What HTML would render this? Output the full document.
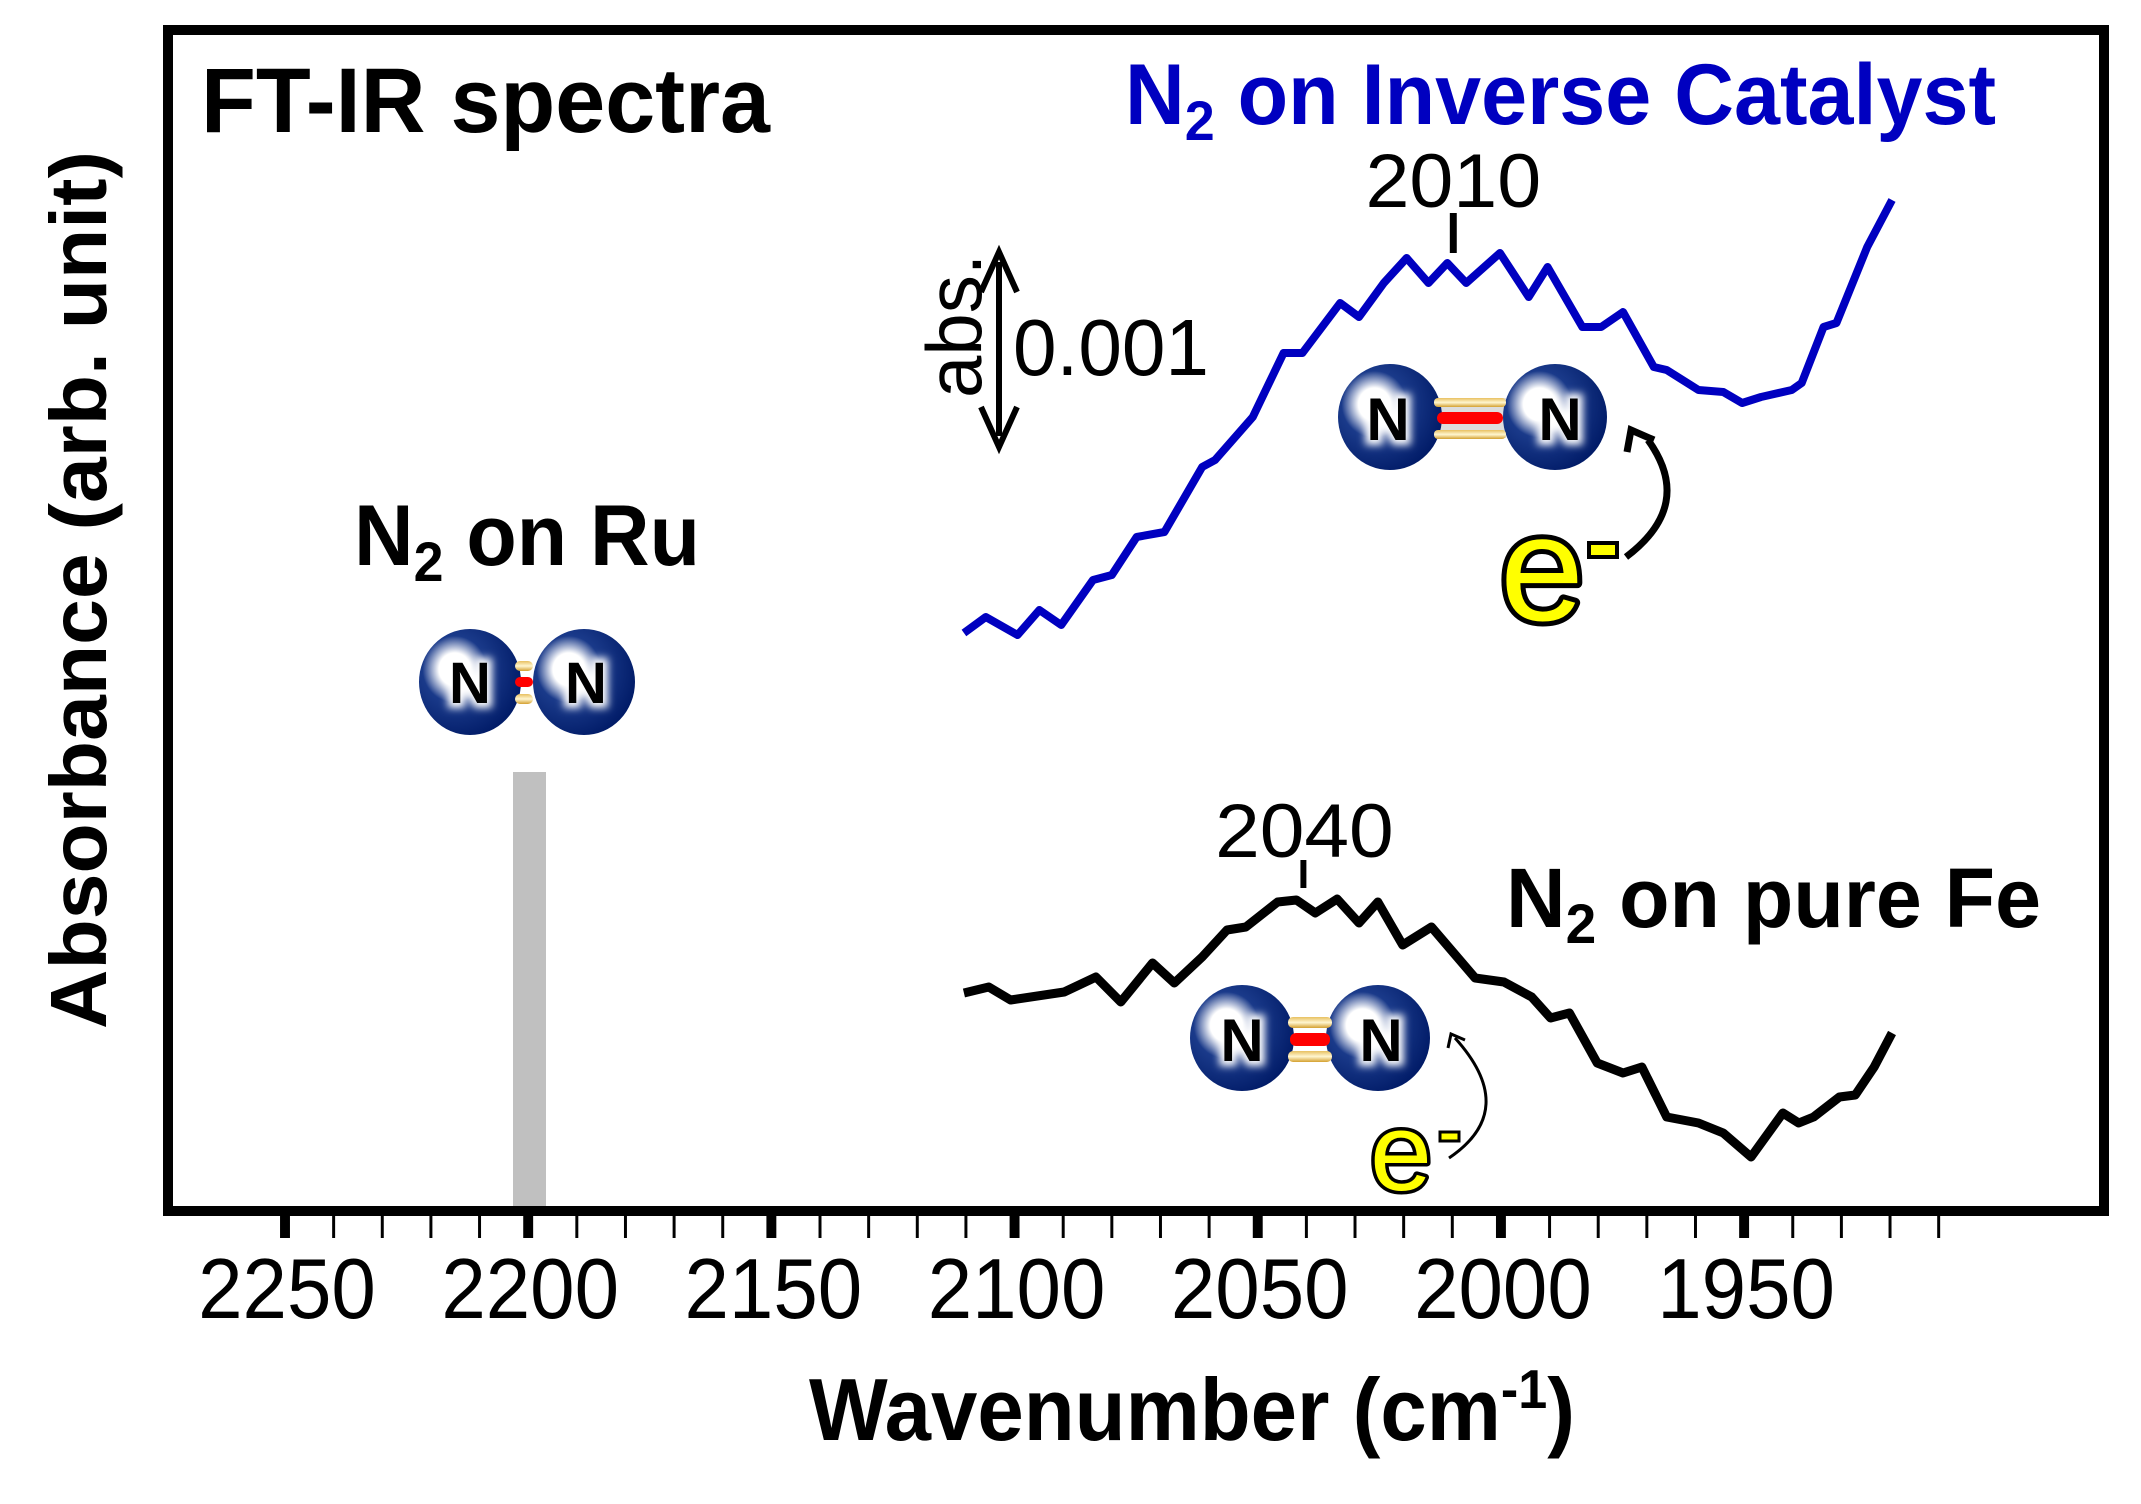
<!DOCTYPE html>
<html><head><meta charset="utf-8"><style>html,body{margin:0;padding:0;background:#fff}svg{display:block}</style></head>
<body>
<svg width="2141" height="1504" viewBox="0 0 2141 1504" xmlns="http://www.w3.org/2000/svg" font-family="Liberation Sans, Arial, sans-serif">
<defs>
<radialGradient id="ball" cx="0.35" cy="0.38" r="0.7">
<stop offset="0" stop-color="#ffffff"/>
<stop offset="0.22" stop-color="#ffffff"/>
<stop offset="0.45" stop-color="#1a3a8a"/>
<stop offset="1" stop-color="#001a66"/>
</radialGradient>
<linearGradient id="gold" x1="0" y1="0" x2="0" y2="1">
<stop offset="0" stop-color="#e8c060"/><stop offset="0.5" stop-color="#fff6d0"/><stop offset="1" stop-color="#d4a030"/>
</linearGradient>
<filter id="glow" x="-50%" y="-50%" width="200%" height="200%"><feGaussianBlur stdDeviation="4"/></filter>
</defs>

<!-- frame -->
<rect x="168" y="30" width="1936" height="1181" fill="none" stroke="#000" stroke-width="10"/>

<!-- gray bar -->
<rect x="513" y="772" width="33" height="434" fill="#c0c0c0"/>

<g transform="translate(285,0) scale(0.9926,1) translate(-285,0)">
<!-- ticks -->
<g stroke="#000">
<g stroke-width="10">
<line x1="285" y1="1211" x2="285" y2="1238"/><line x1="530" y1="1211" x2="530" y2="1238"/><line x1="775" y1="1211" x2="775" y2="1238"/><line x1="1020" y1="1211" x2="1020" y2="1238"/><line x1="1265" y1="1211" x2="1265" y2="1238"/><line x1="1510" y1="1211" x2="1510" y2="1238"/><line x1="1755" y1="1211" x2="1755" y2="1238"/>
</g>
<g stroke-width="3">
<line x1="334" y1="1211" x2="334" y2="1238"/><line x1="383" y1="1211" x2="383" y2="1238"/><line x1="432" y1="1211" x2="432" y2="1238"/><line x1="481" y1="1211" x2="481" y2="1238"/>
<line x1="579" y1="1211" x2="579" y2="1238"/><line x1="628" y1="1211" x2="628" y2="1238"/><line x1="677" y1="1211" x2="677" y2="1238"/><line x1="726" y1="1211" x2="726" y2="1238"/>
<line x1="824" y1="1211" x2="824" y2="1238"/><line x1="873" y1="1211" x2="873" y2="1238"/><line x1="922" y1="1211" x2="922" y2="1238"/><line x1="971" y1="1211" x2="971" y2="1238"/>
<line x1="1069" y1="1211" x2="1069" y2="1238"/><line x1="1118" y1="1211" x2="1118" y2="1238"/><line x1="1167" y1="1211" x2="1167" y2="1238"/><line x1="1216" y1="1211" x2="1216" y2="1238"/>
<line x1="1314" y1="1211" x2="1314" y2="1238"/><line x1="1363" y1="1211" x2="1363" y2="1238"/><line x1="1412" y1="1211" x2="1412" y2="1238"/><line x1="1461" y1="1211" x2="1461" y2="1238"/>
<line x1="1559" y1="1211" x2="1559" y2="1238"/><line x1="1608" y1="1211" x2="1608" y2="1238"/><line x1="1657" y1="1211" x2="1657" y2="1238"/><line x1="1706" y1="1211" x2="1706" y2="1238"/>
<line x1="1804" y1="1211" x2="1804" y2="1238"/><line x1="1853" y1="1211" x2="1853" y2="1238"/><line x1="1902" y1="1211" x2="1902" y2="1238"/><line x1="1951" y1="1211" x2="1951" y2="1238"/>
</g>
</g>

<!-- tick labels -->
<g font-size="85" text-anchor="middle" fill="#000">
<text x="287" y="1318" textLength="179" lengthAdjust="spacingAndGlyphs">2250</text>
<text x="532" y="1318" textLength="179" lengthAdjust="spacingAndGlyphs">2200</text>
<text x="777" y="1318" textLength="179" lengthAdjust="spacingAndGlyphs">2150</text>
<text x="1022" y="1318" textLength="179" lengthAdjust="spacingAndGlyphs">2100</text>
<text x="1267" y="1318" textLength="179" lengthAdjust="spacingAndGlyphs">2050</text>
<text x="1512" y="1318" textLength="179" lengthAdjust="spacingAndGlyphs">2000</text>
<text x="1757" y="1318" textLength="179" lengthAdjust="spacingAndGlyphs">1950</text>
</g>

<!-- peak labels -->
<text x="1462" y="207" font-size="76" text-anchor="middle" textLength="177" lengthAdjust="spacingAndGlyphs">2010</text>
<line x1="1462" y1="213" x2="1462" y2="253" stroke="#000" stroke-width="7"/>
<text x="1312" y="857" font-size="76" text-anchor="middle" textLength="180" lengthAdjust="spacingAndGlyphs">2040</text>
<line x1="1311" y1="860" x2="1311" y2="888" stroke="#000" stroke-width="6"/>

<!-- spectra -->
<polyline fill="none" stroke="#0000c0" stroke-width="8" stroke-linejoin="round" points="969,633 991,617 1023,635 1045,610 1067,625 1099,580 1118,575 1143,537 1171,532 1209,467 1222,460 1260,417 1291,353 1310,353 1348,303 1367,317 1392,283 1415,258 1437,283 1456,263 1475,283 1509,253 1538,297 1557,267 1592,327 1611,327 1633,312 1664,367 1677,370 1709,390 1734,392 1753,403 1772,397 1803,390 1813,383 1835,327 1848,323 1879,247 1904,200"/>
<polyline fill="none" stroke="#000" stroke-width="9" stroke-linejoin="round" points="969,993 994,987 1016,1000 1070,992 1102,977 1127,1002 1159,963 1181,983 1209,957 1234,930 1253,927 1285,902 1304,900 1323,913 1345,899 1367,923 1386,902 1411,945 1440,927 1484,978 1513,982 1541,997 1560,1018 1579,1013 1607,1063 1633,1073 1652,1067 1677,1117 1709,1123 1734,1133 1762,1157 1794,1113 1810,1123 1825,1117 1851,1097 1867,1095 1886,1067 1904,1033"/>
</g>

<!-- axis titles -->
<text x="809" y="1440" font-size="88" font-weight="bold" textLength="766" lengthAdjust="spacingAndGlyphs">Wavenumber (cm<tspan font-size="55" dy="-32">-1</tspan><tspan dy="32">)</tspan></text>
<text transform="translate(106,1029) rotate(-90)" font-size="80" font-weight="bold" textLength="878" lengthAdjust="spacingAndGlyphs">Absorbance (arb. unit)</text>

<text x="201" y="132" font-size="92" font-weight="bold" textLength="569" lengthAdjust="spacingAndGlyphs">FT-IR spectra</text>
<text x="1125" y="124" font-size="86" font-weight="bold" fill="#0000c0" textLength="871" lengthAdjust="spacingAndGlyphs">N<tspan font-size="56" dy="16">2</tspan><tspan dy="-16"> on Inverse Catalyst</tspan></text>
<text x="354" y="565" font-size="86" font-weight="bold" textLength="346" lengthAdjust="spacingAndGlyphs">N<tspan font-size="56" dy="16">2</tspan><tspan dy="-16"> on Ru</tspan></text>
<text x="1506" y="927" font-size="84" font-weight="bold" textLength="535" lengthAdjust="spacingAndGlyphs">N<tspan font-size="56" dy="16">2</tspan><tspan dy="-16"> on pure Fe</tspan></text>

<!-- scale bar -->
<line x1="999" y1="262" x2="999" y2="436" stroke="#000" stroke-width="6"/>
<path d="M981,292 L999,252 L1017,292" fill="none" stroke="#000" stroke-width="6"/>
<path d="M981,407 L999,447 L1017,407" fill="none" stroke="#000" stroke-width="6"/>
<text x="1013" y="375" font-size="80" textLength="196" lengthAdjust="spacingAndGlyphs">0.001</text>
<text transform="translate(981,398) rotate(-90)" font-size="78" textLength="144" lengthAdjust="spacingAndGlyphs">abs.</text>

<!-- molecule Ru -->
<g>
<ellipse cx="470" cy="682" rx="51" ry="53" fill="url(#ball)"/>
<ellipse cx="584" cy="682" rx="51" ry="53" fill="url(#ball)"/>
<rect x="515" y="661" width="18" height="10" rx="5" fill="url(#gold)"/>
<rect x="515" y="677" width="18" height="10" rx="5" fill="#f00"/>
<rect x="515" y="694" width="18" height="10" rx="5" fill="url(#gold)"/>
<g font-size="58" font-weight="bold" text-anchor="middle">
<text x="470" y="703" fill="#fff" stroke="#fff" stroke-width="10" filter="url(#glow)">N</text>
<text x="586" y="703" fill="#fff" stroke="#fff" stroke-width="10" filter="url(#glow)">N</text>
<text x="470" y="703">N</text><text x="586" y="703">N</text>
</g>
</g>

<!-- molecule inverse -->
<g>
<rect x="1434" y="398" width="72" height="40" fill="#ddd"/>
<ellipse cx="1390" cy="417" rx="52" ry="53" fill="url(#ball)"/>
<ellipse cx="1555" cy="417" rx="52" ry="53" fill="url(#ball)"/>
<rect x="1434" y="398" width="72" height="9" rx="4" fill="url(#gold)"/>
<rect x="1437" y="412" width="66" height="12" rx="6" fill="#f00"/>
<rect x="1434" y="430" width="72" height="9" rx="4" fill="url(#gold)"/>
<g font-size="60" font-weight="bold" text-anchor="middle">
<text x="1388" y="440" fill="#fff" stroke="#fff" stroke-width="10" filter="url(#glow)">N</text>
<text x="1560" y="440" fill="#fff" stroke="#fff" stroke-width="10" filter="url(#glow)">N</text>
<text x="1388" y="440">N</text><text x="1560" y="440">N</text>
</g>
</g>

<!-- molecule Fe -->
<g>
<ellipse cx="1242" cy="1038" rx="52" ry="53" fill="url(#ball)"/>
<ellipse cx="1378" cy="1038" rx="52" ry="53" fill="url(#ball)"/>
<rect x="1288" y="1017" width="44" height="11" rx="5" fill="url(#gold)"/>
<rect x="1290" y="1033" width="40" height="13" rx="6" fill="#f00"/>
<rect x="1288" y="1051" width="44" height="11" rx="5" fill="url(#gold)"/>
<g font-size="60" font-weight="bold" text-anchor="middle">
<text x="1242" y="1061" fill="#fff" stroke="#fff" stroke-width="10" filter="url(#glow)">N</text>
<text x="1381" y="1061" fill="#fff" stroke="#fff" stroke-width="10" filter="url(#glow)">N</text>
<text x="1242" y="1061">N</text><text x="1381" y="1061">N</text>
</g>
</g>

<!-- electrons -->
<text x="1500" y="620" font-size="150" fill="#ffff00" stroke="#000" stroke-width="10" paint-order="stroke" stroke-linejoin="round" textLength="84" lengthAdjust="spacingAndGlyphs">e</text>
<rect x="1589" y="543" width="28" height="14" fill="#ffff00" stroke="#000" stroke-width="4"/>
<path d="M1626,557 Q1695,505 1648,440" fill="none" stroke="#000" stroke-width="7"/>
<path d="M1627,452 L1631,430 L1654,440" fill="none" stroke="#000" stroke-width="7"/>

<text x="1370" y="1190" font-size="110" fill="#ffff00" stroke="#000" stroke-width="7" paint-order="stroke" stroke-linejoin="round" textLength="62" lengthAdjust="spacingAndGlyphs">e</text>
<rect x="1440" y="1132" width="19" height="9" fill="#ffff00" stroke="#000" stroke-width="3"/>
<path d="M1449,1158 Q1520,1110 1455,1038" fill="none" stroke="#000" stroke-width="3"/>
<path d="M1448,1048 L1451,1034 L1465,1040" fill="none" stroke="#000" stroke-width="3"/>
</svg>
</body></html>
